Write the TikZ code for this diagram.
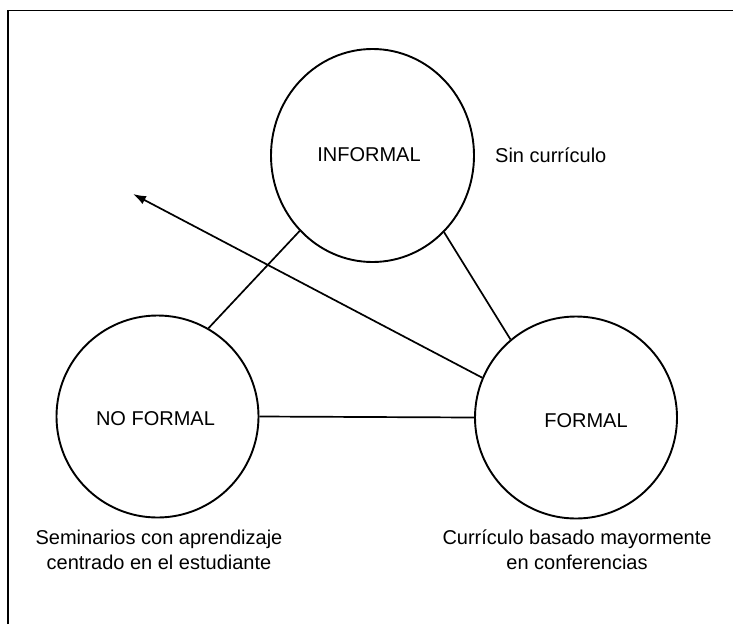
\documentclass[tikz,border=0pt]{standalone}
\usepackage{fontspec}
\setmainfont{Liberation Sans}
\usetikzlibrary{arrows.meta,shapes.geometric}
\begin{document}
\begin{tikzpicture}[x=1pt,y=-1pt,
  bubble/.style={draw,circle,line width=1.9pt,minimum size=202pt,inner sep=0pt},
  lbl/.style={font=\fontsize{20}{25}\selectfont,inner sep=0pt},
  note/.style={font=\fontsize{20}{25}\selectfont,inner sep=0pt,align=center},
  link/.style={line width=1.7pt},
  frameline/.style={line width=1.9pt}]
\useasboundingbox (0,0) rectangle (733,624);
\draw[frameline] (8,624) -- (8,10.5) -- (733,10.5);
\node[draw,ellipse,line width=1.9pt,minimum width=203pt,minimum height=213pt,inner sep=0pt] (inf) at (372.5,155.5) {};
\node[bubble] (nf) at (157.5,416.5) {};
\node[bubble] (f) at (576,417.5) {};
\node[lbl] (tinf) at (369,155) {INFORMAL};
\node[lbl] (tnf) at (155.5,419) {NO FORMAL};
\node[lbl] (tf) at (586,421) {FORMAL};
\node[lbl,anchor=west] (sin) at (495,155) {Sin currículo};
\node[note] (sem) at (159,549.5) {Seminarios con aprendizaje\\centrado en el estudiante};
\node[note] (cur) at (577,549.5) {Currículo basado mayormente\\en conferencias};
\draw[link] (inf.226.6) -- (nf.60.6);
\draw[link] (inf.313.8) -- (f.130.8);
\draw[link] (nf.east) -- (f.west);
\coordinate (tip) at (133,194);
\draw[link,-{Latex[length=13pt,width=9pt]}] (f.157.2) -- (tip);
\end{tikzpicture}
\end{document}
